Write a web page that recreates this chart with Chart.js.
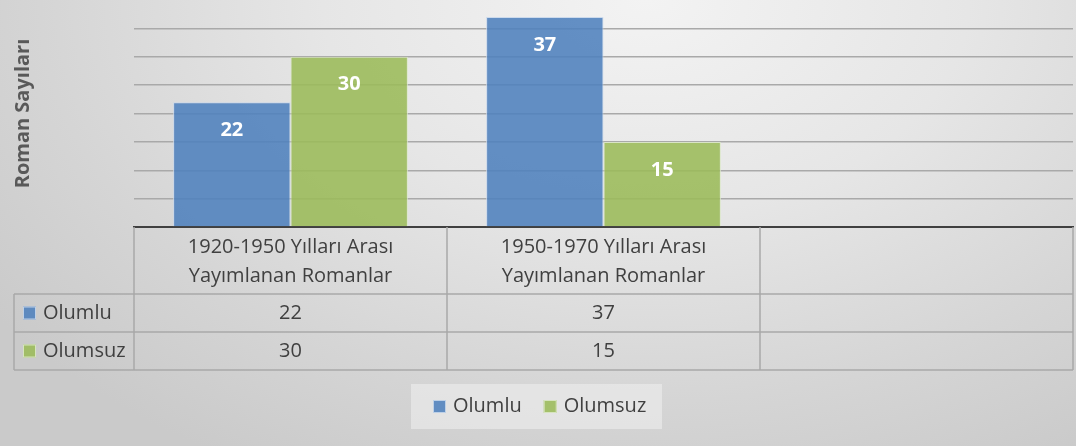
<!DOCTYPE html>
<html>
<head>
<meta charset="utf-8">
<script src="https://cdn.jsdelivr.net/npm/chart.js@4.4.1/dist/chart.umd.min.js"></script>
<style>
  body { margin: 0; }
  #wrap {
    width: 1076px;
    height: 446px;
    background: radial-gradient(ellipse 75% 120% at 60% 0%, #f3f3f3 0%, #e6e6e6 40%, #d5d5d5 75%, #cacaca 100%);
  }
</style>
</head>
<body>
<div id="wrap"><canvas id="romanChart" width="1076" height="446"></canvas></div>
<script>
// veriler
const kategoriler = [
    ['1920-1950 Yılları Arası', 'Yayımlanan Romanlar'],
    ['1950-1970 Yılları Arası', 'Yayımlanan Romanlar'],
    ''
];
const seriAdlari = ['Olumlu', 'Olumsuz'];
const olumlu = [22, 37, null];
const olumsuz = [30, 15, null];

const renkler = ['rgba(79,129,189,0.88)', 'rgba(155,187,89,0.88)'];
const kenarRenk = ['rgba(200,215,235,0.9)', 'rgba(220,232,200,0.9)'];
const yaziRengi = '#404040';
const font = 'Open Sans';

// bar etiketleri (beyaz, kalin)
const etiketPlugin = {
    id: 'etiketler',
    afterDatasetsDraw(chart) {
        const ctx = chart.ctx;
        ctx.save();
        ctx.fillStyle = '#ffffff';
        ctx.font = 'bold 20px "' + font + '"';
        ctx.textAlign = 'center';
        ctx.textBaseline = 'middle';
        chart.data.datasets.forEach((ds, d) => {
            chart.getDatasetMeta(d).data.forEach((bar, i) => {
                if (ds.data[i] == null) return;
                ctx.fillText(ds.data[i], bar.x, bar.y + 28);
            });
        });
        ctx.restore();
    }
};

// veri tablosu + gosterge
const tabloPlugin = {
    id: 'tablo',
    afterDraw(chart) {
        const ctx = chart.ctx;
        const xs = chart.scales.x;
        const alan = chart.chartArea;
        const colW = (alan.right - alan.left) / kategoriler.length;
        const ust = alan.bottom;
        const baslikH = 67, satirH = 38;
        const solKenar = 14;
        const alt = ust + baslikH + satirH * seriAdlari.length;

        ctx.save();
        ctx.strokeStyle = '#a8a8a8';
        ctx.lineWidth = 1.5;
        // dikey cizgiler
        for (let i = 0; i <= kategoriler.length; i++) {
            const x = alan.left + i * colW;
            ctx.beginPath();
            ctx.moveTo(x, ust);
            ctx.lineTo(x, alt);
            ctx.stroke();
        }
        ctx.beginPath();
        ctx.moveTo(solKenar, ust + baslikH);
        ctx.lineTo(solKenar, alt);
        ctx.stroke();
        // yatay cizgiler
        for (let r = 0; r <= seriAdlari.length; r++) {
            const y = ust + baslikH + r * satirH;
            ctx.beginPath();
            ctx.moveTo(solKenar, y);
            ctx.lineTo(alan.right, y);
            ctx.stroke();
        }

        ctx.fillStyle = yaziRengi;
        ctx.font = '20px "' + font + '"';
        ctx.textBaseline = 'middle';
        ctx.textAlign = 'center';
        // baslik satiri
        kategoriler.forEach((k, i) => {
            const cx = xs.getPixelForValue(i);
            const satirlar = Array.isArray(k) ? k : [k];
            satirlar.forEach((s, j) => {
                ctx.fillText(s, cx, ust + 20 + j * 29);
            });
        });
        // deger satirlari
        chart.data.datasets.forEach((ds, d) => {
            const cy = ust + baslikH + d * satirH + satirH / 2;
            ds.data.forEach((v, i) => {
                if (v == null) return;
                ctx.fillText(v, xs.getPixelForValue(i), cy);
            });
            // seri adi + anahtar
            ctx.fillStyle = renkler[d];
            ctx.fillRect(23, cy - 6.5, 13, 13);
            ctx.strokeStyle = kenarRenk[d];
            ctx.lineWidth = 1;
            ctx.strokeRect(23.5, cy - 6, 12, 12);
            ctx.fillStyle = yaziRengi;
            ctx.textAlign = 'left';
            ctx.fillText(ds.label, 43, cy);
            ctx.textAlign = 'center';
        });

        // gosterge kutusu
        const lgY = 384, lgH = 45;
        ctx.fillStyle = 'rgba(240,240,240,0.55)';
        ctx.fillRect(411, lgY, 251, lgH);
        let lx = 433;
        const lcy = lgY + lgH / 2;
        ctx.textAlign = 'left';
        chart.data.datasets.forEach((ds, d) => {
            ctx.fillStyle = renkler[d];
            ctx.fillRect(lx, lcy - 6.5, 13, 13);
            ctx.strokeStyle = kenarRenk[d];
            ctx.lineWidth = 1;
            ctx.strokeRect(lx + 0.5, lcy - 6, 12, 12);
            ctx.fillStyle = yaziRengi;
            ctx.fillText(ds.label, lx + 20, lcy);
            lx += 20 + ctx.measureText(ds.label).width + 22;
        });
        ctx.restore();
    }
};

const ctx = document.getElementById('romanChart').getContext('2d');
new Chart(ctx, {
    type: 'bar',
    data: {
        labels: kategoriler,
        datasets: [
            {
                label: seriAdlari[0],
                data: olumlu,
                backgroundColor: renkler[0],
                borderColor: kenarRenk[0],
                borderWidth: 1
            },
            {
                label: seriAdlari[1],
                data: olumsuz,
                backgroundColor: renkler[1],
                borderColor: kenarRenk[1],
                borderWidth: 1
            }
        ]
    },
    options: {
        responsive: false,
        animation: false,
        layout: { padding: { left: 11, right: 3, top: 0, bottom: 0 } },
        datasets: {
            bar: { categoryPercentage: 0.75, barPercentage: 1 }
        },
        plugins: {
            legend: { display: false },
            tooltip: { enabled: false }
        },
        scales: {
            x: {
                ticks: { display: false },
                grid: { display: false },
                border: { display: true, color: '#404040', width: 2 },
                afterFit: s => { s.height = 219; }
            },
            y: {
                min: 0,
                max: 40,
                ticks: { display: false, stepSize: 5 },
                grid: {
                    drawTicks: false,
                    lineWidth: 1.5,
                    color: c => (c.tick.value === 0 || c.tick.value === 40) ? 'rgba(0,0,0,0)' : '#a9a9a9'
                },
                border: { display: false },
                title: {
                    display: true,
                    text: 'Roman Sayıları',
                    color: '#595959',
                    padding: 0,
                    font: { family: font, size: 20, weight: 'bold' }
                },
                afterFit: s => { s.width = 123; }
            }
        }
    },
    plugins: [etiketPlugin, tabloPlugin]
});
</script>
</body>
</html>
